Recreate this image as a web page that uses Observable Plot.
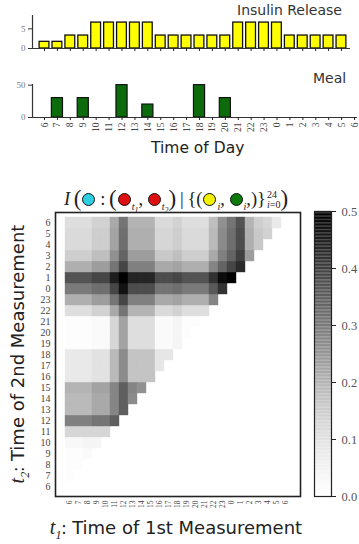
<!DOCTYPE html>
<html><head><meta charset="utf-8">
<script src="https://cdn.jsdelivr.net/npm/d3@7"></script>
<script src="https://cdn.jsdelivr.net/npm/@observablehq/plot@0.6"></script>
<style>
body{margin:0;background:#fff;}
#root{position:relative;width:359px;height:544px;overflow:hidden;background:#fff;}
.abs{position:absolute;}
.lab{font-family:'DejaVu Sans',sans-serif;color:#222;white-space:nowrap;}
.mi{font-family:'Liberation Serif',serif;font-style:italic;}
#title{font-family:'Liberation Serif',serif;font-size:18.5px;color:#222;text-align:center;white-space:nowrap;line-height:26px;}
.dot{display:inline-block;width:11px;height:11px;border:1.6px solid #111;border-radius:50%;vertical-align:-1px;margin:0 1px;}
.bp{font-size:23px;vertical-align:-1px;}
#title sub{font-size:10px;}
#title sub sub{font-size:8px;}
.ss{display:inline-flex;flex-direction:column;font-size:10px;line-height:10px;vertical-align:7px;text-align:left;margin-left:1px;}
</style></head><body><div id="root"></div>
<script>
// categories: hour of day, 6 am to 6 am next day
const hours = [6,7,8,9,10,11,12,13,14,15,16,17,18,19,20,21,22,23,0,1,2,3,4,5,6];
// insulin release for hours 6..5
const insulin = [1.7,1.7,3.3,3.3,6.6,6.6,6.6,6.6,6.6,3.3,3.3,3.3,3.3,3.3,3.3,6.6,6.6,6.6,6.6,3.3,3.3,3.3,3.3,3.3];
// meal size per hour 6..6
const meal = [0,30,0,30,0,0,50,0,20,0,0,0,50,0,30,0,0,0,0,0,0,0,0,0,0];
// heatmap rows: heat[j-1] = row t2 index j, values for t1 index i = 0..j-1
const heat = [
  [.01],
  [.01,.01],
  [.01,.01,.02],
  [.03,.03,.04,.04],
  [.13,.13,.13,.13,.13],
  [.29,.29,.29,.31,.31,.35],
  [.19,.19,.19,.22,.22,.28,.35],
  [.19,.19,.19,.22,.22,.28,.35,.27],
  [.20,.20,.20,.23,.23,.28,.35,.28,.26],
  [.08,.08,.08,.10,.10,.19,.27,.17,.17,.17],
  [.08,.08,.08,.10,.10,.19,.27,.17,.17,.17,.09],
  [.08,.08,.08,.10,.10,.19,.27,.17,.17,.17,.09,.09],
  [.01,.01,.01,.02,.02,.13,.23,.11,.11,.11,.02,.02,.04],
  [.01,.01,.01,.02,.02,.13,.23,.11,.11,.11,.02,.02,.04,.01],
  [.01,.01,.01,.02,.02,.13,.23,.11,.11,.11,.02,.02,.04,.01,.01],
  [.11,.11,.11,.14,.14,.22,.31,.20,.20,.20,.12,.12,.14,.11,.11,.11],
  [.21,.21,.21,.24,.24,.31,.39,.29,.29,.29,.22,.22,.23,.21,.21,.21,.28],
  [.30,.30,.30,.32,.32,.39,.47,.38,.38,.38,.31,.31,.32,.30,.30,.30,.36,.42],
  [.37,.37,.37,.39,.39,.45,.50,.44,.44,.44,.38,.38,.39,.37,.37,.37,.42,.48,.50],
  [.21,.21,.21,.24,.24,.31,.39,.29,.29,.29,.22,.22,.23,.21,.21,.21,.28,.34,.39,.43],
  [.15,.15,.15,.18,.18,.26,.34,.24,.24,.24,.16,.16,.18,.15,.15,.15,.22,.29,.34,.40,.24],
  [.12,.12,.12,.15,.15,.23,.32,.21,.21,.21,.13,.13,.15,.12,.12,.12,.19,.27,.32,.38,.21,.16],
  [.12,.12,.12,.15,.15,.23,.32,.21,.21,.21,.13,.13,.15,.12,.12,.12,.19,.27,.32,.38,.21,.16,.14],
  [.11,.11,.11,.14,.14,.22,.31,.20,.20,.20,.12,.12,.14,.11,.11,.11,.18,.26,.31,.37,.20,.15,.13,.08]
];
const colorbarTicks = [0, 0.1, 0.2, 0.3, 0.4, 0.5];

const root = document.getElementById("root");
function place(node, left, top) {
  const d = document.createElement("div");
  d.className = "abs"; d.style.left = left + "px"; d.style.top = top + "px";
  d.appendChild(node); root.appendChild(d); return d;
}
function html(str, left, top, cls, extra) {
  const d = document.createElement("div");
  d.className = "abs " + (cls || ""); d.style.left = left + "px"; d.style.top = top + "px";
  if (extra) Object.assign(d.style, extra);
  d.innerHTML = str; root.appendChild(d); return d;
}
const baseStyle = {fontFamily: "'Liberation Serif', serif", fontSize: "9px", color: "#333", overflow: "visible", background: "none"};
const idx = hours.map((h, k) => k);
const label = k => String(hours[k]);

// Insulin panel
const insData = insulin.map((v, k) => ({k, v}));
place(Plot.plot({
  width: 359, height: 60, marginLeft: 32, marginRight: 9, marginTop: 15, marginBottom: 12,
  x: {type: "linear", domain: [-0.93, 23.7], axis: null},
  y: {domain: [0, 8.4], axis: null},
  style: baseStyle,
  marks: [
    Plot.rectY(insData, {x1: d => d.k - 0.38, x2: d => d.k + 0.38, y: "v", fill: "#ffff00", stroke: "#111", strokeWidth: 1.3}),
    Plot.ruleY([0], {stroke: "#333", strokeWidth: 1.2}),
    Plot.ruleX([-0.93], {stroke: "#333", strokeWidth: 1.2}),
    Plot.axisX(insData.map(d => d.k), {label: null, tickSize: 3, tickFormat: () => "", stroke: "#222", strokeWidth: 1}),
    Plot.axisY([0, 5], {label: null, tickSize: 4, tickPadding: 3, fill: "#777", fontSize: 9, stroke: "#333"})
  ]
}), 0, 0);
html("Insulin Release", 237, 2, "lab", {fontSize: "14px", color: "#333"});

// Meal panel
const mealData = meal.map((v, k) => ({k, v})).filter(d => d.v > 0);
place(Plot.plot({
  width: 359, height: 75, marginLeft: 32, marginRight: 2, marginTop: 14, marginBottom: 28,
  x: {type: "linear", domain: [-0.93, 24.23], axis: null},
  y: {domain: [0, 51], axis: null},
  style: baseStyle,
  marks: [
    Plot.rectY(mealData, {x1: d => d.k - 0.43, x2: d => d.k + 0.43, y: "v", fill: "#0c6c0c", stroke: "#111", strokeWidth: 1.2}),
    Plot.ruleY([0], {stroke: "#333", strokeWidth: 1.2}),
    Plot.ruleX([-0.93], {stroke: "#333", strokeWidth: 1.2}),
    Plot.axisX(idx, {label: null, tickSize: 3, tickRotate: -90, tickPadding: 2, tickFormat: label, fontSize: 9.5, fill: "#444", stroke: "#222"}),
    Plot.axisY([0, 50], {label: null, tickSize: 4, tickPadding: 3, fill: "#777", fontSize: 9, stroke: "#333"})
  ]
}), 0, 70);
html("Meal", 313, 70, "lab", {fontSize: "14px", color: "#333"});
html("Time of Day", 151, 139, "lab", {fontSize: "15.5px"});

// Heatmap
const cells = [];
heat.forEach((row, r) => row.forEach((v, i) => cells.push({i, j: r + 1, v})));
const colorOpts = {type: "linear", scheme: "greys", domain: [0, 0.5]};
place(Plot.plot({
  width: 359, height: 364, marginLeft: 55, marginRight: 59, marginTop: 32, marginBottom: 48,
  x: {type: "band", domain: idx, padding: 0, axis: null},
  y: {type: "band", domain: idx, padding: 0, reverse: true, axis: null},
  color: colorOpts,
  style: baseStyle,
  marks: [
    Plot.cell(cells, {x: "i", y: "j", fill: "v", stroke: "v", strokeWidth: 0.4}),
    Plot.frame({stroke: "#222", strokeWidth: 1.6}),
    Plot.axisY(idx, {label: null, tickSize: 0, tickPadding: 5, tickFormat: label, fontSize: 10, fill: "#444"}),
    Plot.axisX(idx, {label: null, tickSize: 0, tickPadding: 4, tickRotate: -90, tickFormat: label, fontSize: 7.5, fill: "#444"})
  ]
}), 0, 180);

// Colorbar
const cbStops = d3.range(0, 0.5, 0.0025);
place(Plot.plot({
  width: 59, height: 364, marginLeft: 14, marginRight: 28, marginTop: 31, marginBottom: 48,
  x: {domain: [0, 1], axis: null},
  y: {domain: [0, 0.5], axis: null},
  color: colorOpts,
  style: baseStyle,
  marks: [
    Plot.rect(cbStops, {x1: 0, x2: 1, y1: d => d, y2: d => d + 0.0026, fill: d => d + 0.00125}),
    Plot.frame({stroke: "#222", strokeWidth: 1.2}),
    Plot.axisY(colorbarTicks, {label: null, anchor: "right", tickSize: 4, tickPadding: 6, tickFormat: d3.format(".1f"), fontSize: 12.5, fill: "#555", stroke: "#222"})
  ]
}), 300, 180);

// Heatmap title and axis labels
html('<span class="mi">I</span>&#8201;<span class="bp">(</span><span class="dot" style="background:#2ccfe2"></span>&#8201;:&#8201;<span class="bp">(</span><span class="dot" style="background:#dd1111"></span><sub class="mi">t<sub>1</sub></sub>,&#8201;<span class="dot" style="background:#dd1111"></span><sub class="mi">t<sub>2</sub></sub><span class="bp">)</span>&#8201;|&#8201;{(<span class="dot" style="background:#f2f200"></span><sub class="mi">i</sub>,&#8201;<span class="dot" style="background:#0a7a0a"></span><sub class="mi">i</sub>,)}<span class="ss"><span>24</span><span><span class="mi">i</span>=0</span></span><span class="bp">)</span>',
  26, 186, "", {width: "300px"}).id = "title";
html('<span class="mi" style="font-size:20px">t<sub style="font-size:12px">2</sub></span><span style="font-family:Liberation Serif">:</span> Time of 2nd Measurement',
  17 - 150, 354 - 12, "lab", {width: "300px", height: "24px", lineHeight: "24px", textAlign: "center", fontSize: "18px", transform: "rotate(-90deg)"});
html('<span class="mi" style="font-size:20px">t<sub style="font-size:12px">1</sub></span><span style="font-family:Liberation Serif">:</span> Time of 1st Measurement',
  176 - 150, 515, "lab", {width: "300px", height: "24px", lineHeight: "24px", textAlign: "center", fontSize: "18px"});
</script>
</body></html>
